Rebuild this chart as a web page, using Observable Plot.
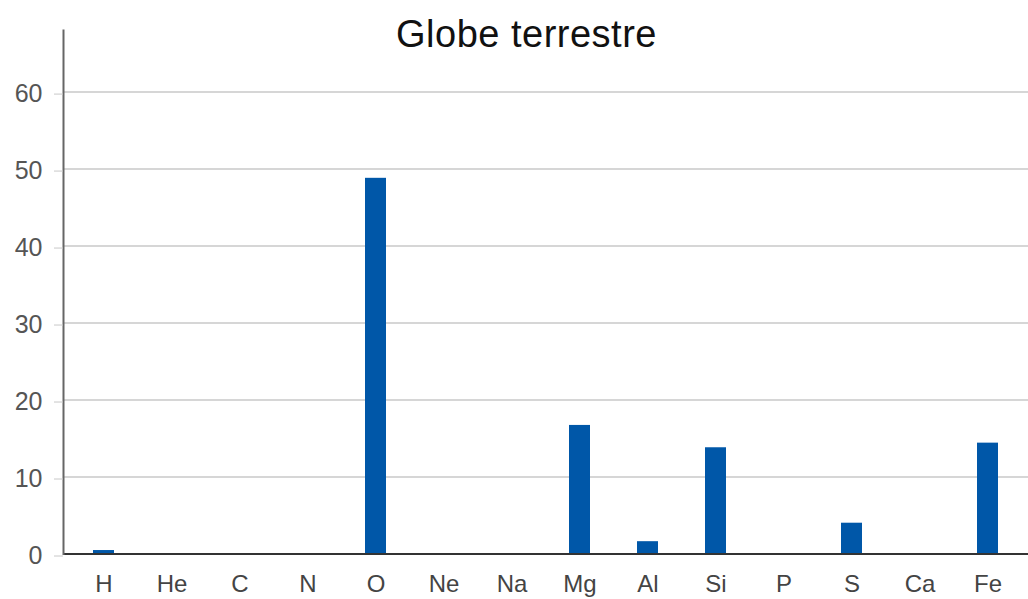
<!DOCTYPE html>
<html>
<head>
<meta charset="utf-8">
<script src="https://cdn.jsdelivr.net/npm/d3@7"></script>
<script src="https://cdn.jsdelivr.net/npm/@observablehq/plot@0.6"></script>
<style>
  html, body { margin: 0; padding: 0; background: #fff; }
  #wrap { position: relative; width: 1028px; height: 599px; font-family: "Liberation Sans", Arial, sans-serif; }
  #title { position: absolute; left: 0; top: 13px; width: 1053px; text-align: center; font-size: 38px; color: #111; letter-spacing: 0.5px; }
</style>
</head>
<body>
<div id="wrap"><div id="title"></div></div>
<script>
const title = "Globe terrestre";
const elements = ["H", "He", "C", "N", "O", "Ne", "Na", "Mg", "Al", "Si", "P", "S", "Ca", "Fe"];
const values = [0.45, 0, 0, 0, 48.8, 0, 0, 16.7, 1.6, 13.8, 0, 4.0, 0, 14.4];
const yTicks = [0, 10, 20, 30, 40, 50, 60];

const data = elements.map((el, i) => ({el, v: values[i]}));

const chart = Plot.plot({
  width: 1028,
  height: 599,
  marginLeft: 63,
  marginRight: 0,
  marginTop: 30,
  marginBottom: 45.5,
  style: {fontFamily: "'Liberation Sans', Arial, sans-serif", background: "#fff"},
  x: {domain: elements, paddingInner: 0.69, paddingOuter: 0.43, label: null},
  y: {domain: [0, 68], label: null},
  marks: [
    Plot.gridY(yTicks.filter(d => d > 0), {stroke: "#c8c8c8", strokeOpacity: 1, strokeWidth: 1.5}),
    Plot.barY(data.filter(d => d.v > 0), {x: "el", y: "v", fill: "#0057a8"}),
    Plot.ruleY([0], {stroke: "#333", strokeWidth: 2}),
    Plot.frame({anchor: "left", stroke: "#666", strokeWidth: 2}),
    Plot.axisY({ticks: yTicks, tickSize: 9, tickPadding: 12, stroke: "#c8c8c8", fill: "#555", fontSize: 25, dy: 2, label: null}),
    Plot.axisX({tickSize: 0, tickPadding: 21, fontSize: 24, fill: "#444", label: null})
  ]
});
document.getElementById("wrap").appendChild(chart);
document.getElementById("title").textContent = title;
</script>
</body>
</html>
